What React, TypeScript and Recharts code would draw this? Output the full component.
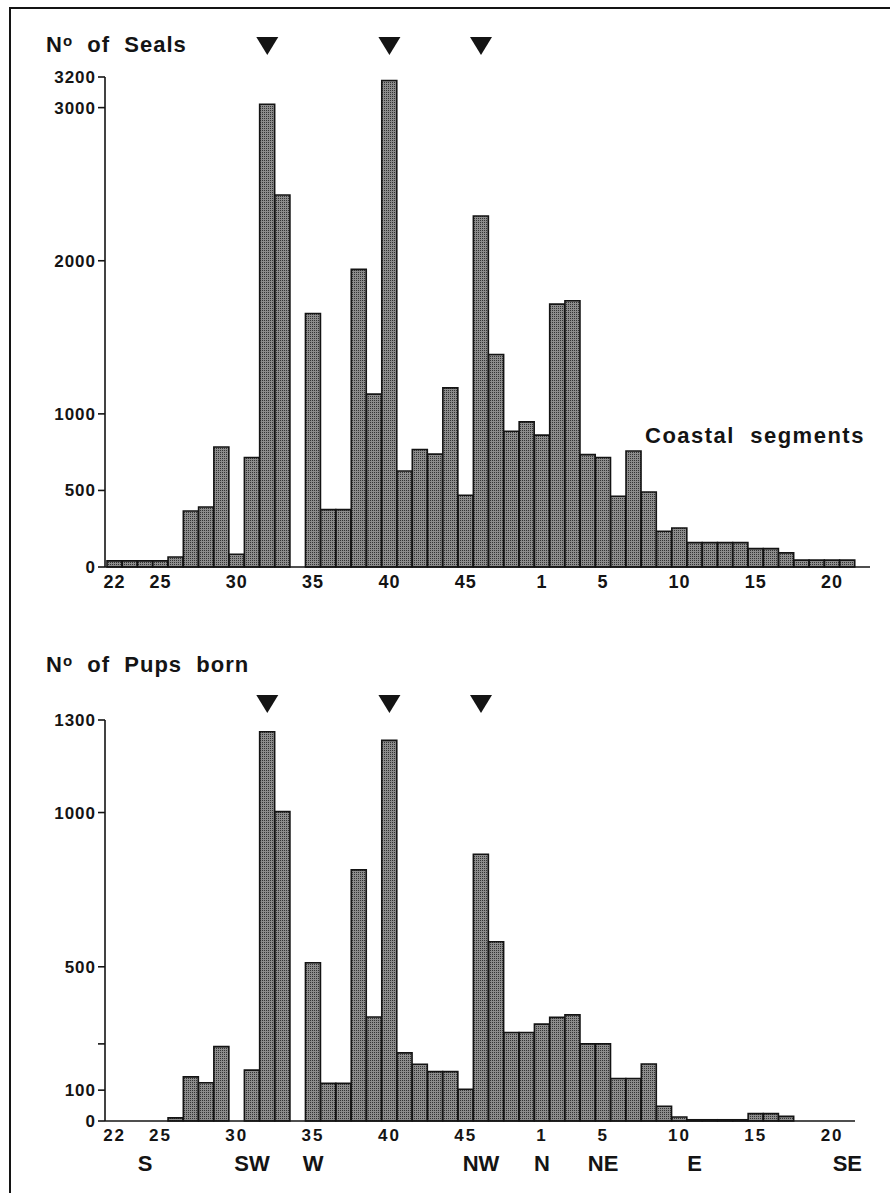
import React from "react";
import { BarChart, Bar, XAxis, YAxis, ReferenceDot } from "recharts";

// coastal segments, clockwise from 22 round to 21
const segments = [
  22, 23, 24, 25, 26, 27, 28, 29, 30, 31, 32, 33, 34, 35, 36, 37, 38, 39, 40,
  41, 42, 43, 44, 45, 46, 47, 48, 49, 1, 2, 3, 4, 5, 6, 7, 8, 9, 10, 11, 12,
  13, 14, 15, 16, 17, 18, 19, 20, 21,
];

const sealCounts = [
  40, 40, 40, 40, 65, 366, 392, 784, 83, 715, 3022, 2429, 0, 1656, 375, 375,
  1944, 1129, 3177, 627, 767, 737, 1170, 469, 2292, 1388, 887, 948, 861, 1717,
  1739, 734, 715, 462, 758, 490, 233, 255, 159, 159, 159, 159, 120, 120, 92,
  45, 45, 45, 45,
];

const pupCounts = [
  0, 0, 0, 0, 10, 143, 124, 241, 0, 165, 1262, 1003, 0, 513, 122, 122, 814,
  337, 1234, 221, 184, 160, 160, 103, 865, 581, 287, 287, 314, 336, 344, 250,
  250, 138, 138, 185, 48, 13, 4, 4, 4, 4, 24, 24, 15, 0, 0, 0, 0,
];

const segmentTicks = [22, 25, 30, 35, 40, 45, 1, 5, 10, 15, 20];
const sealTicks = [0, 500, 1000, 2000, 3000, 3200];
const pupTicks = [0, 100, 250, 500, 1000, 1300];
const pupUnlabelled = [250];
const arrowSegments = [32, 40, 46];
const directionSegments = [24, 31, 35, 46, 1, 5, 11, 21];
const directionNames = ["S", "SW", "W", "NW", "N", "NE", "E", "SE"];

const FONT = '"Liberation Sans", Arial, Helvetica, sans-serif';
const INK = "#141414";

const sealData = segments.map((seg, i) => ({ seg, n: sealCounts[i] }));
const pupData = segments.map((seg, i) => ({ seg, n: pupCounts[i] }));

const segLabel = (v: number) => (segmentTicks.includes(v) ? String(v) : "");
const dirLabel = (v: number) => {
  const i = directionSegments.indexOf(v);
  return i < 0 ? "" : directionNames[i];
};

// filled down-pointing marker, lifted above the top of the y range
const arrow = (lift: number) => (props: any) => {
  const { cx, cy } = props;
  const c = cy - lift;
  return (
    <polygon
      points={`${cx - 11},${c - 9} ${cx + 11},${c - 9} ${cx},${c + 9}`}
      fill={INK}
    />
  );
};

const Stipple = ({ id }: { id: string }) => (
  <defs>
    <pattern id={id} width="2" height="2" patternUnits="userSpaceOnUse">
      <rect width="2" height="2" fill="#8c8c8c" />
      <rect width="1" height="1" fill="#343434" />
    </pattern>
  </defs>
);

const axisTick = (size: number, spacing = 1) => ({
  fill: INK,
  fontSize: size,
  fontWeight: 700,
  fontFamily: FONT,
  letterSpacing: spacing,
});

const Title = ({ top, text }: { top: number; text: string }) => (
  <div
    style={{
      position: "absolute",
      left: 46,
      top,
      fontSize: 22,
      fontWeight: 700,
      letterSpacing: 1,
      whiteSpace: "pre",
      color: INK,
    }}
  >
    N<span style={{ fontSize: 15, verticalAlign: 6 }}>o</span>
    {text}
  </div>
);

export default function App() {
  return (
    <div
      style={{
        position: "absolute",
        left: 0,
        top: 0,
        width: 890,
        height: 1193,
        background: "#fff",
        fontFamily: FONT,
        overflow: "hidden",
      }}
    >
      <div
        style={{
          position: "absolute",
          left: 9,
          top: 7,
          width: 890,
          height: 1200,
          borderTop: `2px solid ${INK}`,
          borderLeft: `2px solid ${INK}`,
        }}
      />

      <Title top={32} text={"  of  Seals"} />
      <Title top={652} text={"  of  Pups  born"} />

      <div
        style={{
          position: "absolute",
          left: 645,
          top: 423,
          fontSize: 22,
          fontWeight: 700,
          letterSpacing: 1.5,
          whiteSpace: "pre",
          color: INK,
        }}
      >
        Coastal  segments
      </div>

      {/* No of Seals */}
      <div style={{ position: "absolute", left: 0, top: 0 }}>
        <BarChart
          width={890}
          height={600}
          data={sealData}
          margin={{ top: 77, right: 20, bottom: 8, left: 0 }}
          barCategoryGap={0}
        >
          <Stipple id="stipSeals" />
          <XAxis
            dataKey="seg"
            type="category"
            interval={0}
            tickLine={false}
            tickFormatter={segLabel}
            padding={{ left: 2, right: 15 }}
            height={25}
            stroke={INK}
            strokeWidth={1.6}
            tick={axisTick(18)}
          />
          <YAxis
            type="number"
            domain={[0, 3200]}
            ticks={sealTicks}
            interval={0}
            width={105}
            tickSize={7}
            tickMargin={2}
            stroke={INK}
            strokeWidth={1.6}
            tick={axisTick(17)}
          />
          <Bar
            dataKey="n"
            fill="url(#stipSeals)"
            stroke={INK}
            strokeWidth={1.6}
            isAnimationActive={false}
          />
          {arrowSegments.map((s) => (
            <ReferenceDot
              key={s}
              x={s}
              y={3200}
              r={0}
              ifOverflow="visible"
              shape={arrow(31)}
            />
          ))}
        </BarChart>
      </div>

      {/* No of Pups born */}
      <div style={{ position: "absolute", left: 0, top: 680 }}>
        <BarChart
          width={890}
          height={513}
          data={pupData}
          margin={{ top: 40, right: 35, bottom: 6, left: 0 }}
          barCategoryGap={0}
        >
          <Stipple id="stipPups" />
          <XAxis
            dataKey="seg"
            type="category"
            interval={0}
            tickLine={false}
            tickFormatter={segLabel}
            padding={{ left: 2, right: 0 }}
            height={26}
            stroke={INK}
            strokeWidth={1.6}
            tick={axisTick(17, 2)}
          />
          <XAxis
            xAxisId="dir"
            dataKey="seg"
            type="category"
            interval={0}
            axisLine={false}
            tickLine={false}
            tickFormatter={dirLabel}
            padding={{ left: 2, right: 0 }}
            height={40}
            tick={axisTick(22, 0)}
          />
          <YAxis
            type="number"
            domain={[0, 1300]}
            ticks={pupTicks}
            interval={0}
            width={105}
            tickSize={7}
            tickMargin={2}
            stroke={INK}
            strokeWidth={1.6}
            tickFormatter={(v: number) =>
              pupUnlabelled.includes(v) ? "" : String(v)
            }
            tick={axisTick(17)}
          />
          <Bar
            dataKey="n"
            fill="url(#stipPups)"
            stroke={INK}
            strokeWidth={1.6}
            isAnimationActive={false}
          />
          {arrowSegments.map((s) => (
            <ReferenceDot
              key={s}
              x={s}
              y={1300}
              r={0}
              ifOverflow="visible"
              shape={arrow(16)}
            />
          ))}
        </BarChart>
      </div>
    </div>
  );
}
